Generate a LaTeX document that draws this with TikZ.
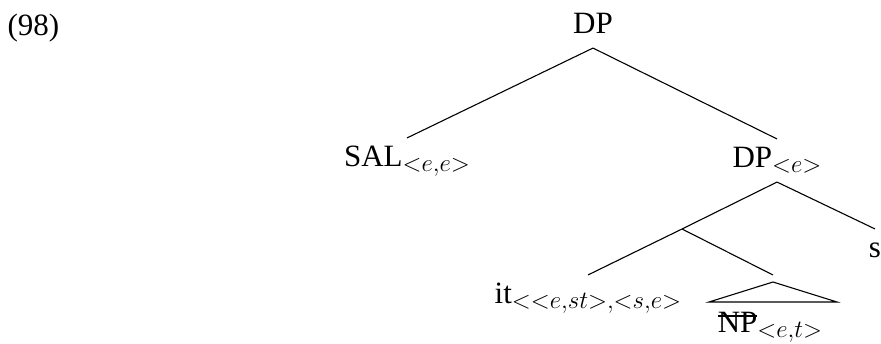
\documentclass[tikz,border=0pt]{standalone}
\usepackage{fontspec}
\setmainfont{Liberation Serif}
\newcommand\sub[1]{\raisebox{-5pt}{\fontsize{34}{37}\selectfont$\scriptstyle #1$}}
\newcommand\struck[1]{\setbox0\hbox{#1}\rlap{\rule[0.5em]{\wd0}{0.045em}}\box0}

\begin{document}
\begin{tikzpicture}[x=1pt,y=-1pt,line width=1.1pt,font=\fontsize{31}{37}\selectfont,
	tnode/.style={inner sep=0pt,anchor=base,text height=27.5pt,text depth=14.5pt}]
		\useasboundingbox (0,0) rectangle (881,343);
		\node[inner sep=0pt,anchor=base west] at (7,35) (ex) {(98)};
		\node[tnode] at (593,33) (dp) {DP};
		\node[tnode] at (407,166) (sal) {SAL\sub{<e,e>}};
		\node[tnode] at (777,167) (dpe) {DP\sub{<e>}};
		\coordinate (mid) at (682,229);
		\node[tnode] at (588,303) (it) {it\sub{<<e,st>,<s,e>}};
		\node[tnode] at (875,257) (s) {s};
		\node[tnode] at (770,332) (np) {\struck{NP}\sub{<e,t>}};
		\coordinate (roof) at (773,275);

		\draw (dp.south) -- (sal.north);
		\draw (dp.south) -- (dpe.north);
		\draw (dpe.south) -- (mid);
		\draw (dpe.south) -- (s.north);
		\draw (mid) -- (it.north);
		\draw (mid) -- (roof);
		\draw (773,282) -- (709,302) -- (837,302) -- cycle;
	\end{tikzpicture}
\end{document}
